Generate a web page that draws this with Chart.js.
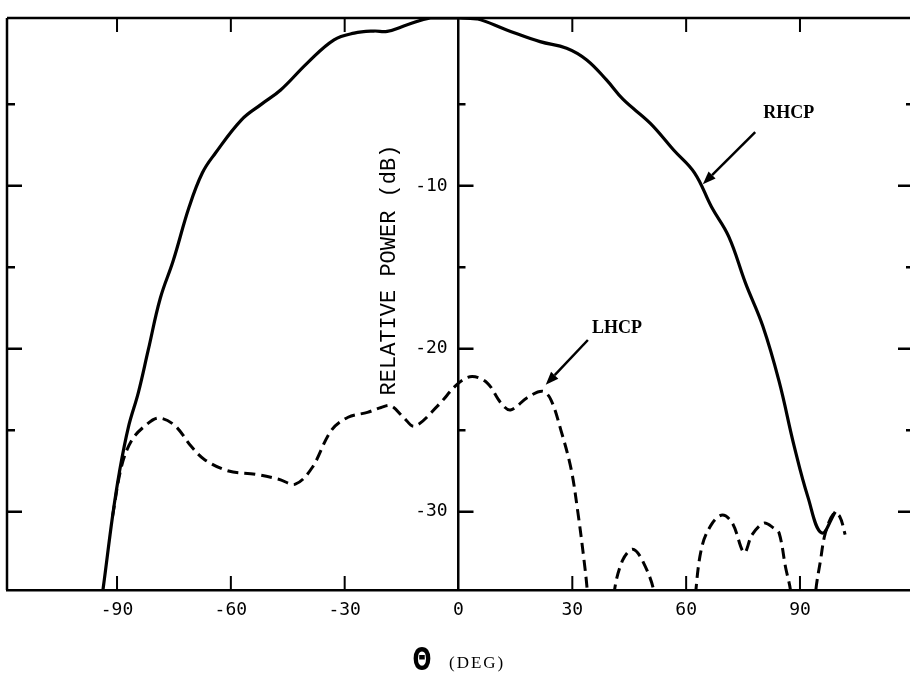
<!DOCTYPE html>
<html>
<head>
<meta charset="utf-8">
<script src="https://cdn.jsdelivr.net/npm/chart.js@4.4.1/dist/chart.umd.min.js"></script>
<style>
  html, body { margin: 0; padding: 0; background: #fff; }
  canvas { display: block; }
</style>
</head>
<body>
<canvas id="pattern" width="910" height="677"></canvas>
<script>
// angle ticks (deg) and power ticks (dB)
const thetaTicks = [-90, -60, -30, 0, 30, 60, 90];
const powerMajor = [-10, -20, -30];
const powerMinor = [-5, -15, -25];

// RHCP (co-pol)
const rhcpTheta = [-94.5, -93.6, -91.2, -89.4, -87.0, -84.4, -81.8, -78.6, -75.2, -71.0, -67.5, -64.1,
  -57.2, -52.0, -46.8, -39.8, -32.8, -27.5, -22.3, -18.8, -13.5, -7.4, 0, 4.8, 12.7, 21.5, 28.5,
  33.8, 39.0, 43.4, 50.5, 56.7, 62.2, 66.7, 71.2, 75.7, 80.2, 84.5, 88.5, 92.1, 95.7, 99.3];
const rhcpPower = [-36.0, -34.6, -30.3, -27.6, -24.8, -22.7, -20.1, -16.9, -14.6, -11.3, -9.2, -8.0,
  -5.95, -5.0, -4.1, -2.45, -1.04, -0.63, -0.5, -0.52, -0.12, 0.3, 0.3, 0.25, -0.43, -1.15, -1.55,
  -2.27, -3.5, -4.7, -6.15, -7.8, -9.2, -11.3, -13.1, -16.0, -18.6, -22.0, -26.0, -29.1, -31.3, -30.0];

// LHCP (cross-pol); -38 marks the nulls below the axis
const lhcpTheta = [-91.2, -88.8, -86.1, -82.5, -79.1, -74.8, -70.4, -66.9, -60.6, -53.5, -47.4, -43.0,
  -38.6, -33.5, -29.1, -24.0, -20.4, -17.8, -14.5, -11.6, -5.5, 0, 3.6, 7.6, 11.1, 13.7, 18.1, 22.1,
  24.3, 27.0, 29.7, 31.5, 33.1, 34.0, 34.8, 40.3, 41.0, 43.2, 45.9, 48.5, 51.6, 52.3, 61.8, 62.5,
  64.2, 66.9, 69.6, 72.2, 75.3, 77.4, 80.5, 83.1, 84.5, 86.2, 87.6, 88.2, 93.5, 94.1, 95.4, 96.7,
  98.9, 100.5, 101.9];
const lhcpPower = [-30.3, -27.2, -25.6, -24.7, -24.25, -24.7, -26.0, -26.8, -27.5, -27.7, -28.0, -28.3,
  -27.3, -25.0, -24.2, -23.9, -23.6, -23.5, -24.2, -24.75, -23.5, -22.1, -21.7, -22.1, -23.3, -23.75,
  -23.0, -22.6, -23.1, -25.0, -27.4, -30.1, -33.0, -35.0, -38, -38, -35.0, -33.0, -32.3, -33.0, -35.0,
  -38, -38, -35, -32.1, -30.7, -30.2, -30.7, -32.5, -31.4, -30.7, -31.0, -31.3, -33.4, -35, -38, -38,
  -35, -33.0, -31.3, -30.1, -30.3, -31.4];

// curve labels with arrows, in data units
const notes = [
  { text: 'RHCP', at: [80.3, -5.84], from: [78.2, -6.7], to: [64.4, -9.9] },
  { text: 'LHCP', at: [35.2, -19.03], from: [34.1, -19.46], to: [23.0, -22.2] }
];

function toPoints(xs, ys) {
  return xs.map((x, i) => ({ x: x, y: ys[i] }));
}

const ink = '#000';
const monoTick = { family: '"DejaVu Sans Mono", monospace', size: 18 };

const framePlugin = {
  id: 'frame',
  afterDraw(chart) {
    const ctx = chart.ctx;
    const xs = chart.scales.x;
    const ys = chart.scales.y;
    const area = chart.chartArea;
    const x0 = xs.getPixelForValue(0);

    ctx.save();
    ctx.strokeStyle = ink;
    ctx.fillStyle = ink;
    ctx.lineCap = 'butt';

    // top and left frame
    ctx.lineWidth = 2.5;
    ctx.beginPath();
    ctx.moveTo(area.left, area.top);
    ctx.lineTo(area.right, area.top);
    ctx.moveTo(area.left, area.top);
    ctx.lineTo(area.left, area.bottom);
    ctx.stroke();

    // angle ticks, pointing inward from top and bottom
    ctx.lineWidth = 2;
    ctx.beginPath();
    thetaTicks.forEach(t => {
      if (t === 0) return;
      const px = xs.getPixelForValue(t);
      ctx.moveTo(px, area.top);
      ctx.lineTo(px, area.top + 14);
      ctx.moveTo(px, area.bottom);
      ctx.lineTo(px, area.bottom - 14);
    });
    ctx.stroke();

    // power ticks on left frame, centre axis and right edge
    ctx.lineWidth = 2.5;
    ctx.beginPath();
    powerMajor.concat(powerMinor).forEach(v => {
      const py = ys.getPixelForValue(v);
      const major = powerMajor.includes(v);
      ctx.moveTo(area.left, py);
      ctx.lineTo(area.left + (major ? 15 : 8), py);
      ctx.moveTo(x0, py);
      ctx.lineTo(x0 + (major ? 15 : 7), py);
      ctx.moveTo(area.right, py);
      ctx.lineTo(area.right - (major ? 12 : 4), py);
    });
    ctx.stroke();

    // y title, rotated
    ctx.save();
    ctx.translate(395, 270);
    ctx.rotate(-Math.PI / 2);
    ctx.font = '22px "Liberation Mono", monospace';
    ctx.textAlign = 'center';
    ctx.textBaseline = 'alphabetic';
    ctx.fillText('RELATIVE POWER (dB)', 0, 0);
    ctx.restore();

    // x title: theta plus unit
    ctx.save();
    ctx.translate(422, 661);
    ctx.scale(0.72, 1);
    ctx.font = 'bold 31px "DejaVu Sans", sans-serif';
    ctx.textAlign = 'center';
    ctx.textBaseline = 'middle';
    ctx.fillText('\u0398', 0, 1);
    ctx.restore();
    ctx.save();
    ctx.font = '17px "Liberation Serif", serif';
    ctx.letterSpacing = '2px';
    ctx.textAlign = 'left';
    ctx.textBaseline = 'alphabetic';
    ctx.fillText('(DEG)', 449, 668);
    ctx.restore();

    // curve labels and arrows
    notes.forEach(n => {
      ctx.font = 'bold 18px "Liberation Serif", serif';
      ctx.textAlign = 'left';
      ctx.textBaseline = 'alphabetic';
      ctx.fillText(n.text, xs.getPixelForValue(n.at[0]), ys.getPixelForValue(n.at[1]));

      const fx = xs.getPixelForValue(n.from[0]);
      const fy = ys.getPixelForValue(n.from[1]);
      const tx = xs.getPixelForValue(n.to[0]);
      const ty = ys.getPixelForValue(n.to[1]);
      const ang = Math.atan2(ty - fy, tx - fx);
      const headLen = 13;
      const headHalf = 5;
      const bx = tx - headLen * Math.cos(ang);
      const by = ty - headLen * Math.sin(ang);
      ctx.lineWidth = 2.5;
      ctx.beginPath();
      ctx.moveTo(fx, fy);
      ctx.lineTo(bx, by);
      ctx.stroke();
      ctx.beginPath();
      ctx.moveTo(tx, ty);
      ctx.lineTo(bx + headHalf * Math.sin(ang), by - headHalf * Math.cos(ang));
      ctx.lineTo(bx - headHalf * Math.sin(ang), by + headHalf * Math.cos(ang));
      ctx.closePath();
      ctx.fill();
    });

    ctx.restore();
  }
};

new Chart(document.getElementById('pattern'), {
  type: 'line',
  data: {
    datasets: [
      {
        label: 'RHCP',
        data: toPoints(rhcpTheta, rhcpPower),
        borderColor: ink,
        borderWidth: 3.2,
        pointRadius: 0,
        tension: 0.4,
        fill: false,
        clip: 0
      },
      {
        label: 'LHCP',
        data: toPoints(lhcpTheta, lhcpPower),
        borderColor: ink,
        borderWidth: 3,
        borderDash: [11, 6],
        pointRadius: 0,
        tension: 0.35,
        fill: false,
        clip: 0
      }
    ]
  },
  options: {
    responsive: false,
    animation: false,
    devicePixelRatio: 1,
    layout: { padding: { left: 7, top: 18, right: 0, bottom: 0 } },
    plugins: {
      legend: { display: false },
      tooltip: { enabled: false },
      title: { display: false }
    },
    scales: {
      x: {
        type: 'linear',
        position: 'bottom',
        min: -119,
        max: 119,
        afterFit: function (scale) { scale.height = 87; },
        grid: { drawOnChartArea: false, drawTicks: false },
        border: { display: true, color: ink, width: 2.5 },
        ticks: {
          stepSize: 30,
          includeBounds: false,
          autoSkip: false,
          maxRotation: 0,
          padding: 10,
          color: ink,
          font: monoTick,
          callback: function (value) { return String(value); }
        }
      },
      y: {
        type: 'linear',
        position: { x: 0 },
        min: -34.8,
        max: 0.3,
        grid: { drawOnChartArea: false, drawTicks: false },
        border: { display: true, color: ink, width: 2.5 },
        ticks: {
          stepSize: 5,
          includeBounds: false,
          autoSkip: false,
          color: ink,
          font: monoTick,
          callback: function (value) { return powerMajor.includes(value) ? value + ' ' : ''; }
        }
      }
    }
  },
  plugins: [framePlugin]
});
</script>
</body>
</html>
